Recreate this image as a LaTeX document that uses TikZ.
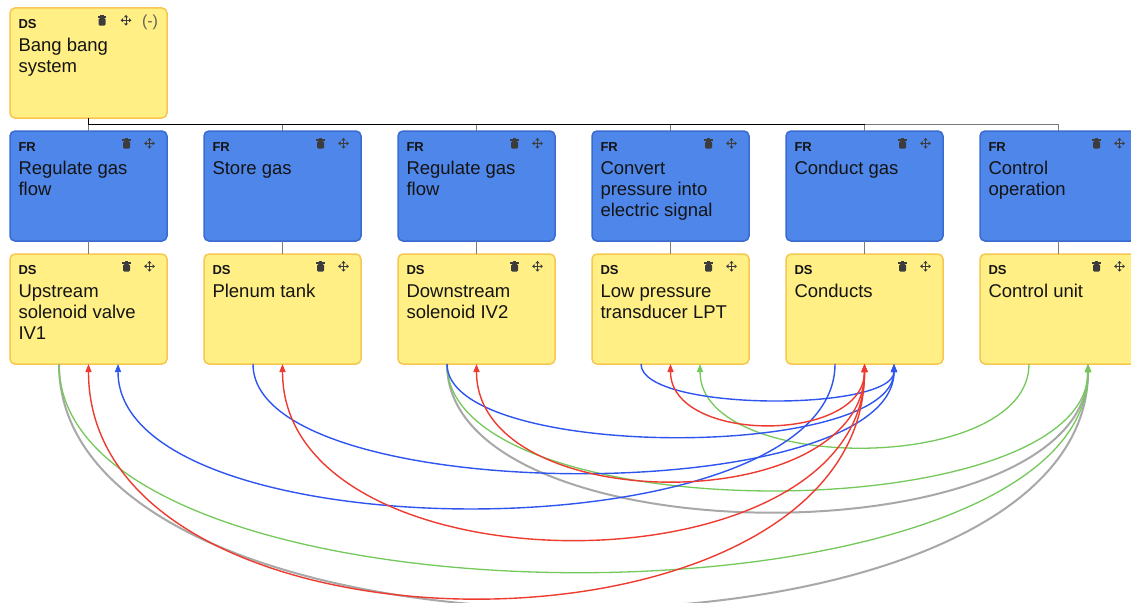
\documentclass[tikz,border=0pt]{standalone}
\usepackage{fontspec}
\setmainfont{Liberation Sans}
\usetikzlibrary{arrows.meta,calc}

\definecolor{dsfill}{HTML}{FFEF85}
\definecolor{dsline}{HTML}{F7C74F}
\definecolor{frfill}{HTML}{4E86E9}
\definecolor{frline}{HTML}{3A6BD0}
\definecolor{arcred}{HTML}{EE3B30}
\definecolor{arcblue}{HTML}{2F55F0}
\definecolor{arcgreen}{HTML}{74C95A}
\definecolor{arcgray}{HTML}{A8A8A8}
\definecolor{treegray}{HTML}{7A7A7A}
\definecolor{iconcol}{HTML}{3C3C3C}

% label lines stacked from the first baseline down
\newcommand\cardlines[1]{\begin{tabular}[t]{@{}l@{}}#1\end{tabular}}
% one card: name, fill style, left x, top y, tag, label
\newcommand\mkcard[6]{%
  \node[card,#2] (#1) at (#3,#4) {};
  \node[tagtext] (#1-tag) at ($(#1.north west)+(8.3,20.7)$) {#5};
  \node[maintext] (#1-text) at ($(#1.north west)+(8.3,43.3)$) {\cardlines{#6}};
}
% delete and move icons of a card
\newcommand\mkicons[3]{%
  \pic at ($(#1.north west)+(#2,12.5)$) {trashcan};
  \pic at ($(#1.north west)+(#3,12.3)$) {mover};
}

\begin{document}
\begin{tikzpicture}[x=1pt,y=-1pt,
  card/.style={rectangle, rounded corners=5pt, line width=1.5pt, outer sep=0pt,
    minimum width=157pt, minimum height=110pt, anchor=north west, inner sep=0pt},
  dscard/.style={fill=dsfill, draw=dsline},
  frcard/.style={fill=frfill, draw=frline},
  tagtext/.style={anchor=base west, inner sep=0pt, font=\fontsize{13}{15}\selectfont\bfseries, text=black!92},
  maintext/.style={anchor=base west, inner sep=0pt, font=\fontsize{18.5}{21}\selectfont, text=black!92},
  treeline/.style={treegray, line width=1.5pt},
  trunkline/.style={black, line width=1.8pt},
  redarc/.style={arcred, line width=1.4pt, arrows={Triangle[length=8pt,width=6pt]-Triangle[length=8pt,width=6pt]}},
  bluearc/.style={arcblue, line width=1.4pt, arrows={-Triangle[length=8pt,width=6pt]}},
  greenarc/.style={arcgreen, line width=1.3pt, arrows={-Triangle[length=8pt,width=6pt]}},
  grayarc/.style={arcgray, line width=2pt, arrows={-Triangle[length=8pt,width=6pt]}},
  trashcan/.pic={
    \fill[iconcol] (-4.2,-4.3) rectangle (4.2,-2.9);
    \fill[iconcol] (-1.6,-5.4) rectangle (1.6,-4.3);
    \fill[iconcol, rounded corners=1.3pt] (-3.5,-2.3) rectangle (3.5,5.2);
  },
  mover/.pic={
    \draw[iconcol, line width=1pt] (-3.5,0) -- (3.5,0) (0,-3.5) -- (0,3.5);
    \foreach \a in {0,90,180,270}
      \fill[iconcol, rotate=\a] (5.4,0) -- (3,-2.1) -- (3,2.1) -- cycle;
  }]

\clip (0,0) rectangle (1131,602);
\fill[white] (0,0) rectangle (1131,602);

% ---- cards ----
\mkcard{top}{dscard}{10}{8}{DS}{Bang bang\\system}
\mkicons{top}{92}{116}
\node[anchor=base, inner sep=0pt, font=\fontsize{16}{16}\selectfont, text=black!62] (collapse)
  at ($(top.north west)+(140,19)$) {(-)};

\mkcard{fr1}{frcard}{10}{131}{FR}{Regulate gas\\flow}
\mkcard{fr2}{frcard}{204}{131}{FR}{Store gas}
\mkcard{fr3}{frcard}{398}{131}{FR}{Regulate gas\\flow}
\mkcard{fr4}{frcard}{592}{131}{FR}{Convert\\pressure into\\electric signal}
\mkcard{fr5}{frcard}{786}{131}{FR}{Conduct gas}
\mkcard{fr6}{frcard}{980}{131}{FR}{Control\\operation}

\mkcard{d1}{dscard}{10}{254}{DS}{Upstream\\solenoid valve\\IV1}
\mkcard{d2}{dscard}{204}{254}{DS}{Plenum tank}
\mkcard{d3}{dscard}{398}{254}{DS}{Downstream\\solenoid IV2}
\mkcard{d4}{dscard}{592}{254}{DS}{Low pressure\\transducer LPT}
\mkcard{d5}{dscard}{786}{254}{DS}{Conducts}
\mkcard{d6}{dscard}{980}{254}{DS}{Control unit}

\foreach \n in {fr1,fr2,fr3,fr4,fr5,fr6,d1,d2,d3,d4,d5,d6} {
  \mkicons{\n}{116.5}{139.5}
}

% ---- hierarchy ----
\foreach \i in {1,...,6} {
  \draw[treeline] (top.south) |- ($(fr\i.north)+(0,-6.5)$) -- (fr\i.north);
  \draw[treeline] (fr\i.south) -- (d\i.north);
}
\draw[trunkline] (top.south) |- ($(fr5.north)+(0,-6.5)$);

% ---- ports on the lower edge of each design card ----
\foreach \i in {1,...,6} {
  \coordinate (d\i-out) at ($(d\i.south)+(-29.5,0)$);
  \coordinate (d\i-mid) at (d\i.south);
  \coordinate (d\i-right) at ($(d\i.south)+(29.5,0)$);
}

% ---- interactions ----
\draw[grayarc] (d1-out) .. controls +(0,325) and +(0,325) .. (d6-right);
\draw[grayarc] (d3-out) .. controls +(0,197) and +(0,197) .. (d6-right);

\draw[greenarc] (d1-out) .. controls +(0,277) and +(0,277) .. (d6-right);
\draw[greenarc] (d3-out) .. controls +(0,168) and +(0,168) .. (d6-right);
\draw[greenarc] (d6-out) .. controls +(0,111) and +(0,111) .. (d4-right);

\draw[bluearc] (d2-out) .. controls +(0,145) and +(0,145) .. (d5-right);
\draw[bluearc] (d3-out) .. controls +(0,97) and +(0,97) .. (d5-right);
\draw[bluearc] (d4-out) .. controls +(0,48) and +(0,48) .. (d5-right);
\draw[bluearc] (d5-out) .. controls +(0,192) and +(0,192) .. (d1-right);

\draw[redarc] (d1-mid) .. controls +(0,311) and +(0,311) .. (d5-mid);
\draw[redarc] (d2-mid) .. controls +(0,233) and +(0,233) .. (d5-mid);
\draw[redarc] (d3-mid) .. controls +(0,155) and +(0,155) .. (d5-mid);
\draw[redarc] (d4-mid) .. controls +(0,80) and +(0,80) .. (d5-mid);

\end{tikzpicture}
\end{document}
